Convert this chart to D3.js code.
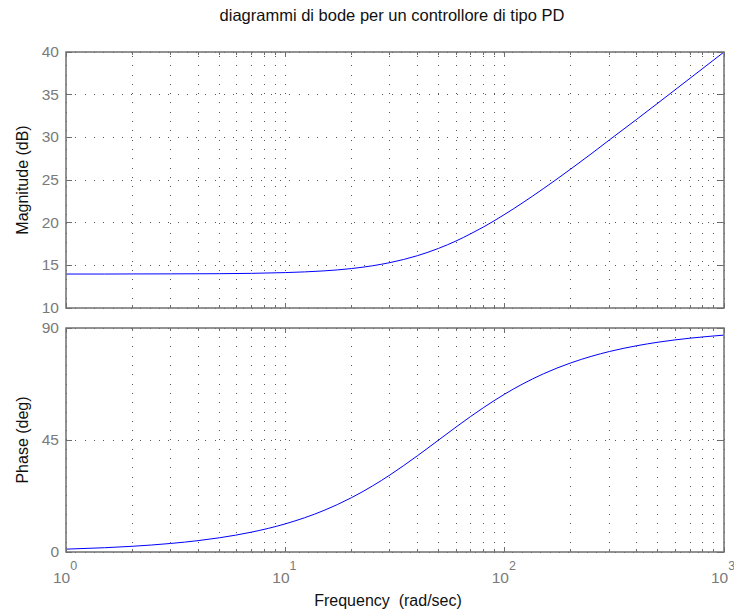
<!DOCTYPE html>
<html>
<head>
<meta charset="utf-8">
<script src="https://cdn.jsdelivr.net/npm/d3@7"></script>
<style>
  body { margin: 0; background: #fff; }
  text { font-family: "Liberation Sans", Arial, sans-serif; }
</style>
</head>
<body>
<svg id="chart" width="734" height="614"></svg>
<script>
// frequencies read along the x axis (rad/sec)
const freq = [1, 1.5, 2, 3, 4, 5, 7, 10, 15, 20, 25, 30, 40, 50, 60, 70, 80, 100, 120, 150, 200, 250, 300, 400, 500, 700, 1000];
// magnitude (dB)
const magDb = [13.98, 13.98, 13.99, 14.0, 14.01, 14.02, 14.06, 14.15, 14.35, 14.62, 14.95, 15.32, 16.13, 16.99, 17.85, 18.7, 19.49, 20.97, 22.28, 23.98, 26.28, 28.13, 29.69, 32.11, 34.02, 36.92, 40.0];
// phase (deg)
const phaseDeg = [1.15, 1.72, 2.29, 3.43, 4.57, 5.71, 7.97, 11.31, 16.7, 21.8, 26.57, 30.96, 38.66, 45, 50.19, 54.46, 57.99, 63.43, 67.38, 71.57, 75.96, 78.69, 80.54, 82.87, 84.29, 85.91, 87.14];

const magTicks = [10, 15, 20, 25, 30, 35, 40];
const phaseTicks = [0, 45, 90];
const decades = [0, 1, 2, 3];

const svg = d3.select("#chart");
const axColor = "#6f6f6f", gridColor = "#555", labColor = "#7a7a7a";
const left = 66, right = 724;

const x = d3.scaleLog().domain([1, 1000]).range([left, right]);
const yMag = d3.scaleLinear().domain([10, 40]).range([308, 52]);
const yPh = d3.scaleLinear().domain([0, 90]).range([552, 328]);

const minorX = [];
decades.slice(0, 3).forEach(e => {
  for (let k = 2; k <= 9; k++) minorX.push(k * Math.pow(10, e));
});
const majorX = decades.map(e => Math.pow(10, e));

function panel(y, yTicks, values, label) {
  const [y0, y1] = y.range(); // bottom, top
  const g = svg.append("g");

  // grid
  g.selectAll(".vgrid").data(majorX.concat(minorX)).enter().append("line")
    .attr("x1", d => x(d)).attr("x2", d => x(d))
    .attr("y1", y0).attr("y2", y1)
    .attr("stroke", gridColor).attr("stroke-width", 1)
    .attr("stroke-dasharray", "1,8.3").attr("shape-rendering", "crispEdges");
  g.selectAll(".hgrid").data(yTicks).enter().append("line")
    .attr("x1", left).attr("x2", right)
    .attr("y1", d => y(d)).attr("y2", d => y(d))
    .attr("stroke", gridColor).attr("stroke-width", 1)
    .attr("stroke-dasharray", "1,8.3").attr("shape-rendering", "crispEdges");

  // curve
  const line = d3.line()
    .x((d, i) => x(freq[i]))
    .y(d => y(d))
    .curve(d3.curveMonotoneX);
  g.append("path").datum(values)
    .attr("d", line)
    .attr("fill", "none")
    .attr("stroke", "#0000ff")
    .attr("stroke-width", 1);

  // ticks on all four sides, pointing inward
  const ticks = g.append("g").attr("stroke", axColor).attr("shape-rendering", "crispEdges");
  majorX.forEach(v => {
    ticks.append("line").attr("x1", x(v)).attr("x2", x(v)).attr("y1", y0).attr("y2", y0 - 5);
    ticks.append("line").attr("x1", x(v)).attr("x2", x(v)).attr("y1", y1).attr("y2", y1 + 5);
  });
  minorX.forEach(v => {
    ticks.append("line").attr("x1", x(v)).attr("x2", x(v)).attr("y1", y0).attr("y2", y0 - 3);
    ticks.append("line").attr("x1", x(v)).attr("x2", x(v)).attr("y1", y1).attr("y2", y1 + 3);
  });
  yTicks.forEach(v => {
    ticks.append("line").attr("x1", left).attr("x2", left + 6).attr("y1", y(v)).attr("y2", y(v));
    ticks.append("line").attr("x1", right).attr("x2", right - 6).attr("y1", y(v)).attr("y2", y(v));
  });

  // frame
  g.append("rect")
    .attr("x", left).attr("y", y1)
    .attr("width", right - left).attr("height", y0 - y1)
    .attr("fill", "none").attr("stroke", axColor).attr("stroke-width", 1.5);

  // y tick labels
  g.selectAll(".ylab").data(yTicks).enter().append("text")
    .attr("x", left - 7).attr("y", d => y(d) + 5)
    .attr("text-anchor", "end")
    .attr("font-size", 15.5).attr("fill", labColor)
    .text(d => d);

  // axis label
  g.append("text")
    .attr("transform", `translate(28,${(y0 + y1) / 2}) rotate(-90)`)
    .attr("text-anchor", "middle")
    .attr("font-size", 16).attr("fill", "#111")
    .text(label);
}

panel(yMag, magTicks, magDb, "Magnitude (dB)");
panel(yPh, phaseTicks, phaseDeg, "Phase (deg)");

// x tick labels 10^n
const xl = svg.append("g");
decades.forEach(e => {
  const t = xl.append("text")
    .attr("x", x(Math.pow(10, e)) - 13).attr("y", 583)
    .attr("font-size", 15.5).attr("fill", labColor);
  t.append("tspan").text("10");
  t.append("tspan").attr("dy", -13).attr("font-size", 12.5).text(e);
});

svg.append("text")
  .attr("x", 388).attr("y", 606)
  .attr("text-anchor", "middle")
  .attr("font-size", 16).attr("fill", "#111")
  .attr("xml:space", "preserve")
  .text("Frequency  (rad/sec)");

svg.append("text")
  .attr("x", 392).attr("y", 21)
  .attr("text-anchor", "middle")
  .attr("font-size", 16.5).attr("fill", "#111")
  .text("diagrammi di bode per un controllore di tipo PD");
</script>
</body>
</html>
